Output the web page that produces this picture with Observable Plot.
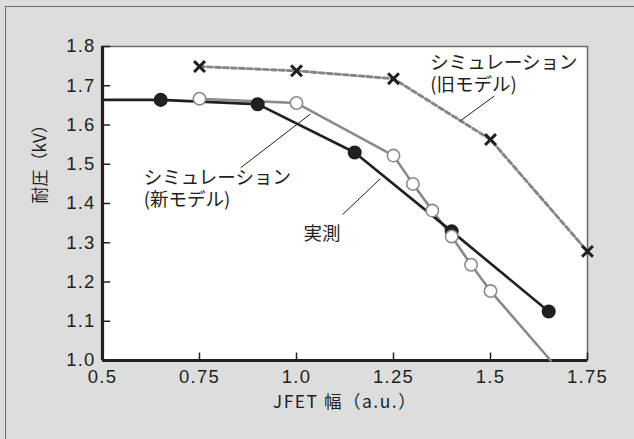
<!DOCTYPE html>
<html><head><meta charset="utf-8">
<script src="https://cdn.jsdelivr.net/npm/d3@7"></script>
<script src="https://cdn.jsdelivr.net/npm/@observablehq/plot@0.6"></script>
<style>
html,body{margin:0;padding:0;background:#dcdddc;}
#wrap{position:relative;width:634px;height:439px;overflow:hidden;}
#wrap svg{display:block;}
#border{position:absolute;left:5px;top:6px;width:700px;height:500px;border-top:1.5px solid #6e6e6e;border-left:1.5px solid #6e6e6e;pointer-events:none;}
</style></head><body><div id="wrap"><div id="border"></div></div>
<script>
// 実測 (measured) — the line starts at the left edge of the plot
const measLineX = [0.5, 0.65, 0.9, 1.15, 1.4, 1.65];
const measLineY = [1.664, 1.664, 1.653, 1.530, 1.329, 1.125];
const measX = [0.65, 0.9, 1.15, 1.4, 1.65];
const measY = [1.664, 1.653, 1.530, 1.329, 1.125];
// シミュレーション（新モデル）
const newLineX = [0.75, 1.0, 1.25, 1.3, 1.35, 1.4, 1.45, 1.5, 1.655];
const newLineY = [1.667, 1.656, 1.522, 1.45, 1.382, 1.316, 1.244, 1.177, 1.0];
const newX = [0.75, 1.0, 1.25, 1.3, 1.35, 1.4, 1.45, 1.5];
const newY = [1.667, 1.656, 1.522, 1.45, 1.382, 1.316, 1.244, 1.177];
// シミュレーション（旧モデル）
const oldX = [0.75, 1.0, 1.25, 1.5, 1.75];
const oldY = [1.749, 1.738, 1.718, 1.563, 1.278];

const xDomain = [0.5, 1.75];
const yDomain = [1.0, 1.8];
const xTicks = [0.5, 0.75, 1.0, 1.25, 1.5, 1.75];
const xTickLabels = ["0.5", "0.75", "1.0", "1.25", "1.5", "1.75"];
const yTicks = [1.0, 1.1, 1.2, 1.3, 1.4, 1.5, 1.6, 1.7, 1.8];
const yTickLabels = ["1.0", "1.1", "1.2", "1.3", "1.4", "1.5", "1.6", "1.7", "1.8"];
const xLabel = "JFET 幅（a.u.）";
const yLabel = "耐圧（kV）";

// annotations (data units)
const annoText = ["シミュレーション\n(旧モデル)", "シミュレーション\n(新モデル)", "実測"];
const annoX = [1.345, 0.606, 1.018];
const annoY = [1.732, 1.439, 1.326];
const leadX1 = [1.510, 0.856, 1.119];
const leadY1 = [1.674, 1.491, 1.372];
const leadX2 = [1.423, 1.036, 1.216];
const leadY2 = [1.611, 1.628, 1.463];

const ink = "#231f20";
const grayLine = "#8a8a8a";
const jp = "'Noto Sans CJK JP', sans-serif";
const num = "'Liberation Sans', Arial, sans-serif";

const meas = measX.map((x, i) => ({x, y: measY[i]}));
const measLine = measLineX.map((x, i) => ({x, y: measLineY[i]}));
const nw = newX.map((x, i) => ({x, y: newY[i]}));
const nwLine = newLineX.map((x, i) => ({x, y: newLineY[i]}));
const old = oldX.map((x, i) => ({x, y: oldY[i]}));
const anno = annoText.map((t, i) => ({t, x: annoX[i], y: annoY[i]}));
const leads = leadX1.map((x1, i) => ({x1, y1: leadY1[i], x2: leadX2[i], y2: leadY2[i]}));

const chart = Plot.plot({
  width: 634,
  height: 439,
  marginLeft: 102,
  marginRight: 47,
  marginTop: 46,
  marginBottom: 79,
  style: {background: "#dcdddc", color: ink},
  x: {domain: xDomain},
  y: {domain: yDomain},
  marks: [
    Plot.frame({fill: "white", stroke: "#6a6a6a", strokeWidth: 1.5}),
    Plot.ruleY(yTicks, {x1: () => xDomain[0], x2: () => xDomain[0] + 0.021, stroke: ink, strokeWidth: 1.5}),
    Plot.ruleX(xTicks, {y1: () => yDomain[0], y2: () => yDomain[0] + 0.019, stroke: ink, strokeWidth: 1.5}),
    Plot.ruleX([xDomain[0]], {stroke: ink, strokeWidth: 3.2}),
    Plot.ruleY([yDomain[0]], {stroke: ink, strokeWidth: 3.2}),
    Plot.axisX(xTicks, {tickSize: 0, tickPadding: 9, tickFormat: d => xTickLabels[xTicks.indexOf(d)], fontSize: 18.5, fontFamily: num, label: null}),
    Plot.axisY(yTicks, {tickSize: 0, tickPadding: 7, tickFormat: d => yTickLabels[yTicks.indexOf(d)], fontSize: 18.5, fontFamily: num, label: null}),
    Plot.text([xLabel], {frameAnchor: "bottom", dy: 42, fontSize: 17.5, fontFamily: jp, fill: ink, lineAnchor: "middle"}),
    Plot.text([yLabel], {frameAnchor: "left", dx: -62, rotate: -90, fontSize: 17, fontFamily: jp, fill: ink, lineAnchor: "middle"}),
    Plot.line(old, {x: "x", y: "y", stroke: "#858585", strokeWidth: 2.9, strokeDasharray: "5,3"}),
    Plot.line(nwLine, {x: "x", y: "y", stroke: grayLine, strokeWidth: 2.6}),
    Plot.line(measLine, {x: "x", y: "y", stroke: ink, strokeWidth: 2.6}),
    Plot.dot(meas, {x: "x", y: "y", r: 6.3, fill: ink, stroke: ink}),
    Plot.dot(nw, {x: "x", y: "y", r: 6.2, fill: "white", stroke: grayLine, strokeWidth: 1.6}),
    Plot.dot(old, {x: "x", y: "y", symbol: "times", r: 5, stroke: ink, strokeWidth: 3}),
    Plot.link(leads, {x1: "x1", y1: "y1", x2: "x2", y2: "y2", stroke: ink, strokeWidth: 1}),
    Plot.text(anno, {x: "x", y: "y", text: "t", textAnchor: "start", lineAnchor: "middle", lineHeight: 1.2, fontSize: 18.5, fontFamily: jp, fill: ink})
  ]
});
document.getElementById("wrap").prepend(chart);
d3.select(chart).selectAll("g[aria-label='x-axis tick label'] text, g[aria-label='y-axis tick label'] text").style("letter-spacing", "1.2px");
d3.select(chart).selectAll("text").filter(function() { return this.textContent.startsWith("JFET"); }).style("letter-spacing", "1.5px");
</script>
</body></html>
